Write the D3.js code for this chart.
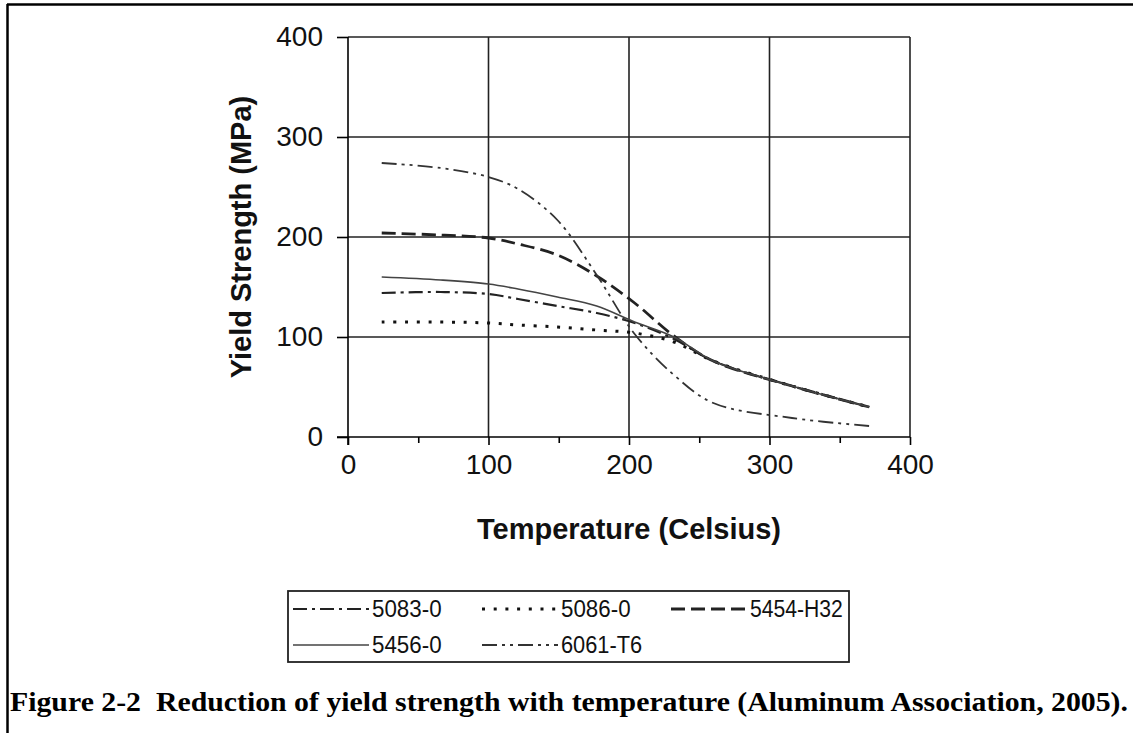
<!DOCTYPE html>
<html><head><meta charset="utf-8">
<script src="https://cdn.jsdelivr.net/npm/d3@7/dist/d3.min.js"></script>
<style>body{margin:0;background:#fff}svg{display:block}</style>
</head><body>
<svg id="c" width="1133" height="733"></svg>
<script>
// ---- data ----
const temps = [24, 66, 100, 121, 149, 177, 204, 232, 260, 316, 371];
const s5083 = [144, 145, 143, 138, 131, 124, 114, 98, 76, 51, 30];
const s5086 = [115, 115, 114, 112, 110, 107, 104, 95, 76, 51, 30];
const s5454 = [204, 202, 199, 193, 182, 161, 134, 101, 76, 51, 30];
const s5456 = [160, 157, 153, 148, 140, 131, 115, 100, 76, 51, 30];
const s6061 = [274, 269, 260, 248, 217, 162, 103, 62, 34, 19, 11];
const seriesNames = ["5083-0", "5086-0", "5454-H32", "5456-0", "6061-T6"];
const xTicks = [0, 100, 200, 300, 400];
const xMinor = [50, 150, 250, 350];
const yTicks = [0, 100, 200, 300, 400];

const styles = {
  "5083-0":   {w: 2.2, dash: "14,5,3,5", col: "#222"},
  "5086-0":   {w: 3,   dash: "3,8.7", col: "#111"},
  "5454-H32": {w: 2.8, dash: "14,6", col: "#222"},
  "5456-0":   {w: 1.6, dash: null, col: "#444"},
  "6061-T6":  {w: 1.8, dash: "15,5,3,5,3,5", col: "#333"}
};
const seriesVals = [s5083, s5086, s5454, s5456, s6061];

const svg = d3.select("#c");
const x = d3.scaleLinear().domain([0, 400]).range([348, 910]);
const y = d3.scaleLinear().domain([0, 400]).range([437, 37]);

// outer frame
svg.append("line").attr("x1", 7).attr("x2", 1133).attr("y1", 4.5).attr("y2", 4.5).attr("stroke", "#000").attr("stroke-width", 2.5);
svg.append("line").attr("x1", 7.5).attr("x2", 7.5).attr("y1", 4).attr("y2", 733).attr("stroke", "#000").attr("stroke-width", 2.5);

// grid
const g = svg.append("g");
g.selectAll(".vg").data([100, 200, 300]).join("line")
  .attr("x1", d => x(d)).attr("x2", d => x(d)).attr("y1", y(400)).attr("y2", y(0))
  .attr("stroke", "#222").attr("stroke-width", 1.6);
g.selectAll(".hg").data([100, 200, 300, 400]).join("line")
  .attr("x1", x(0)).attr("x2", x(400)).attr("y1", d => y(d)).attr("y2", d => y(d))
  .attr("stroke", "#222").attr("stroke-width", 1.6);
// right border
g.append("line").attr("x1", x(400)).attr("x2", x(400)).attr("y1", y(400)).attr("y2", y(0)).attr("stroke", "#222").attr("stroke-width", 1.6);

// axes
const ax = svg.append("g").attr("transform", `translate(0,${y(0)})`)
  .call(d3.axisBottom(x).tickValues(xTicks).tickSize(8).tickPadding(9).tickSizeOuter(0));
ax.select(".domain").remove();
ax.selectAll(".tick line").attr("stroke", "#000").attr("stroke-width", 1.6);
ax.selectAll("text").attr("font-family", "Liberation Sans, Arial, sans-serif").attr("font-size", 28).attr("fill", "#111");
const axm = svg.append("g").attr("transform", `translate(0,${y(0)})`)
  .call(d3.axisBottom(x).tickValues(xMinor).tickSize(6).tickFormat(""));
axm.select(".domain").remove();
axm.selectAll(".tick line").attr("stroke", "#000").attr("stroke-width", 1.6);

const ay = svg.append("g").attr("transform", `translate(${x(0)},0)`)
  .call(d3.axisLeft(y).tickValues(yTicks).tickSize(11).tickPadding(14).tickSizeOuter(0));
ay.select(".domain").remove();
ay.selectAll(".tick line").attr("stroke", "#000").attr("stroke-width", 1.6);
ay.selectAll("text").attr("font-family", "Liberation Sans, Arial, sans-serif").attr("font-size", 28).attr("fill", "#111");

svg.append("line").attr("x1", x(0)).attr("x2", x(0)).attr("y1", y(400)).attr("y2", y(0) + 8).attr("stroke", "#000").attr("stroke-width", 1.6);
svg.append("line").attr("x1", x(0) - 11).attr("x2", x(400)).attr("y1", y(0)).attr("y2", y(0)).attr("stroke", "#000").attr("stroke-width", 1.6);

// titles
svg.append("text").attr("x", (x(0) + x(400)) / 2).attr("y", 539).attr("text-anchor", "middle")
  .attr("font-family", "Liberation Sans, Arial, sans-serif").attr("font-weight", "bold").attr("font-size", 29).attr("fill", "#111")
  .text("Temperature (Celsius)");
svg.append("text").attr("transform", `translate(251,${(y(0) + y(400)) / 2}) rotate(-90)`).attr("text-anchor", "middle")
  .attr("font-family", "Liberation Sans, Arial, sans-serif").attr("font-weight", "bold").attr("font-size", 29).attr("fill", "#111")
  .text("Yield Strength (MPa)");

// series
const line = d3.line().x(d => x(d[0])).y(d => y(d[1])).curve(d3.curveCatmullRom.alpha(0.5));
seriesNames.forEach((name, i) => {
  const st = styles[name];
  const pts = temps.map((t, j) => [t, seriesVals[i][j]]);
  svg.append("path").datum(pts).attr("d", line).attr("fill", "none")
    .attr("stroke", st.col).attr("stroke-width", st.w).attr("stroke-dasharray", st.dash);
});

// legend
svg.append("rect").attr("x", 288).attr("y", 591).attr("width", 561).attr("height", 71)
  .attr("fill", "#fff").attr("stroke", "#222").attr("stroke-width", 1.8);
const colX = [293, 482, 671];
const rowY = [609, 645];
seriesNames.forEach((name, i) => {
  const st = styles[name];
  const cx = colX[i % 3], cy = rowY[Math.floor(i / 3)];
  svg.append("line").attr("x1", cx).attr("x2", cx + 76).attr("y1", cy).attr("y2", cy)
    .attr("stroke", st.col).attr("stroke-width", st.w).attr("stroke-dasharray", st.dash);
  svg.append("text").attr("x", cx + 79).attr("y", cy + 8)
    .attr("font-family", "Liberation Sans, Arial, sans-serif").attr("font-size", 23).attr("fill", "#111")
    .attr("textLength", name.length * 11.6).attr("lengthAdjust", "spacingAndGlyphs")
    .text(name);
});

// caption
svg.append("text").attr("x", 10).attr("y", 711).style("white-space", "pre")
  .attr("font-family", "Liberation Serif, 'Times New Roman', serif").attr("font-weight", "bold").attr("font-size", 28).attr("fill", "#000")
  .attr("textLength", 1118).attr("lengthAdjust", "spacingAndGlyphs")
  .text("Figure 2-2  Reduction of yield strength with temperature (Aluminum Association, 2005).");
</script>
</body></html>
